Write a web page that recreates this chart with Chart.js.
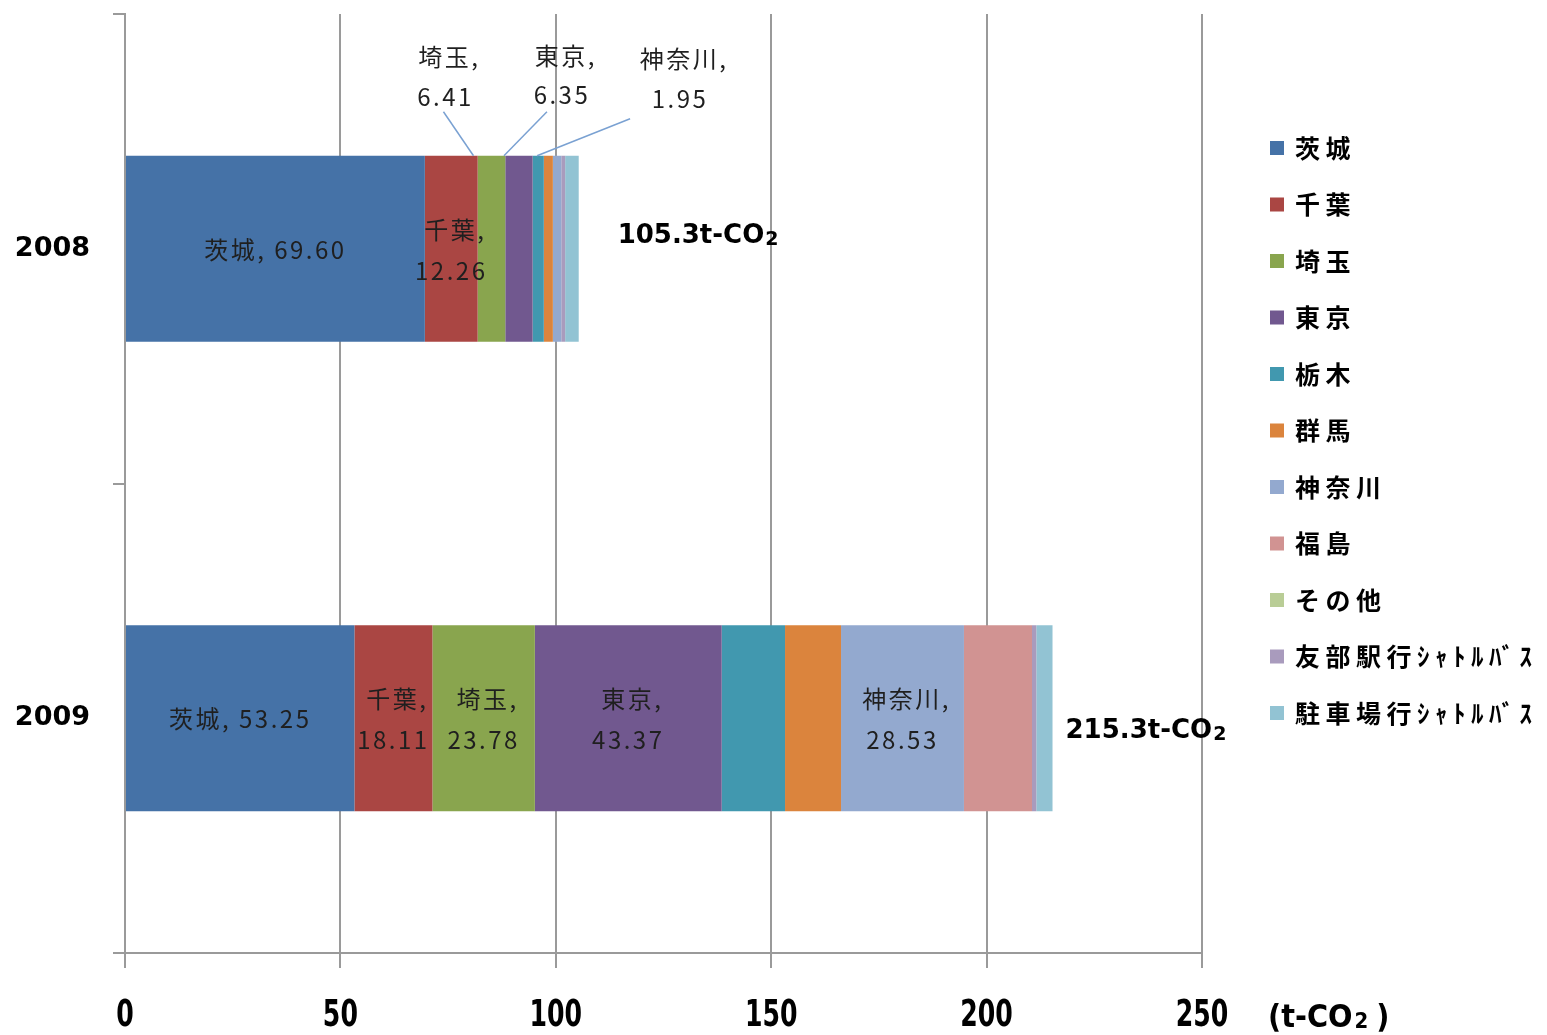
<!DOCTYPE html>
<html lang="ja">
<head>
<meta charset="utf-8">
<title>CO2排出量</title>
<script src="https://cdn.jsdelivr.net/npm/chart.js@4.4.1/dist/chart.umd.min.js"></script>
<style>
  html, body { margin: 0; padding: 0; background: #fff; }
  #wrap { width: 1547px; height: 1035px; }
</style>
</head>
<body>
<div id="wrap"><canvas id="co2-chart" width="1547" height="1035"></canvas></div>
<script>
// 年度
const years = ['2008', '2009'];
// 地域別・シャトルバス別の排出量 (t-CO2)
const regions = ['茨城', '千葉', '埼玉', '東京', '栃木', '群馬', '神奈川', '福島', 'その他', '友部駅行ｼｬﾄﾙﾊﾞｽ', '駐車場行ｼｬﾄﾙﾊﾞｽ'];
const values2008 = [69.60, 12.26, 6.41, 6.35, 2.60, 2.10, 1.95, 0, 0, 0.90, 3.15];
const values2009 = [53.25, 18.11, 23.78, 43.37, 14.70, 13.00, 28.53, 15.80, 0, 1.00, 3.76];
const totals = [105.3, 215.3];
const xTicks = [0, 50, 100, 150, 200, 250];

const colors = ['#4572A7', '#AA4643', '#89A54E', '#71588F', '#4198AF', '#DB843D',
                '#93A9CF', '#D19392', '#B9CD96', '#A99BBD', '#92C3D3'];

// どのラベルをどう出すか: inline = 1行, stacked = 2行, callout = 棒の上に引き出し線付き
const labelModes = [
  { '茨城': 'inline', '千葉': 'stacked', '埼玉': 'callout', '東京': 'callout', '神奈川': 'callout' },
  { '茨城': 'inline', '千葉': 'stacked', '埼玉': 'stacked', '東京': 'stacked', '神奈川': 'stacked' }
];
// 引き出し線ラベルの配置 (セグメント中心・棒の上端からのずれ)
const callouts = {
  '埼玉':   { dx: -46, y1: -99,  y2: -59, sx: -48, sy: -44, ex: -18 },
  '東京':   { dx: 43,  y1: -100, y2: -61, sx: 28,  sy: -44, ex: -15 },
  '神奈川': { dx: 123, y1: -97,  y2: -57, sx: 73,  sy: -37, ex: -20 }
};
// 合計ラベルの位置 (棒の右端・中心からのずれ)
const totalOffsets = [{ dx: 39, dy: -16 }, { dx: 13, dy: 10 }];

const GRID = '#9a9a9a';
const LABEL_FONT = '24px "Noto Sans CJK JP", sans-serif';
const NARROW = '"DejaVu Sans Condensed", "DejaVu Sans", sans-serif';

function drawSpaced(ctx, text, x, y, spacing) {
  ctx.letterSpacing = spacing + 'px';
  ctx.fillText(text, x, y);
  ctx.letterSpacing = '0px';
}

// 棒の中・上に「地域, 値」を書く
const segmentLabels = {
  id: 'segmentLabels',
  afterDatasetsDraw(chart) {
    const ctx = chart.ctx;
    ctx.save();
    ctx.font = LABEL_FONT;
    ctx.fillStyle = '#1f1f1f';
    ctx.textAlign = 'center';
    ctx.textBaseline = 'middle';
    chart.data.datasets.forEach((ds, di) => {
      const meta = chart.getDatasetMeta(di);
      meta.data.forEach((bar, bi) => {
        const mode = labelModes[bi][ds.label];
        if (!mode) return;
        const v = ds.data[bi].toFixed(2);
        const left = Math.min(bar.x, bar.base), right = Math.max(bar.x, bar.base);
        const cx = (left + right) / 2;
        const top = bar.y - bar.height / 2;
        if (mode === 'inline') {
          drawSpaced(ctx, ds.label + ', ' + v, cx, bar.y + 1, 2.5);
        } else if (mode === 'stacked') {
          drawSpaced(ctx, ds.label + ',', cx + 4, bar.y - 19, 2.5);
          drawSpaced(ctx, v, cx, bar.y + 22, 2.5);
        } else {
          const c = callouts[ds.label];
          ctx.strokeStyle = '#7aa1d2';
          ctx.lineWidth = 1.5;
          ctx.beginPath();
          ctx.moveTo(cx + c.sx, top + c.sy);
          ctx.lineTo(cx + c.ex, top);
          ctx.stroke();
          drawSpaced(ctx, ds.label + ',', cx + c.dx + 4, top + c.y1, 2.5);
          drawSpaced(ctx, v, cx + c.dx, top + c.y2, 2.5);
        }
      });
    });
    ctx.restore();
  }
};

// x軸の目盛り文字 (縦長の太字), 合計値と単位
const axisTextAndTotals = {
  id: 'axisTextAndTotals',
  afterDraw(chart) {
    const ctx = chart.ctx;
    const xs = chart.scales.x, ys = chart.scales.y;
    ctx.save();
    ctx.fillStyle = '#000';

    ctx.textAlign = 'center';
    ctx.textBaseline = 'middle';
    ctx.font = 'bold 28px ' + NARROW;
    xs.ticks.forEach(t => {
      ctx.save();
      ctx.translate(xs.getPixelForValue(t.value), 1016);
      ctx.scale(1, 1.33);
      ctx.fillText(String(t.value), 0, 0);
      ctx.restore();
    });

    ctx.textAlign = 'left';
    ctx.textBaseline = 'alphabetic';
    totals.forEach((t, i) => {
      const x = xs.getPixelForValue(t) + totalOffsets[i].dx;
      const y = ys.getPixelForValue(i) + totalOffsets[i].dy + 10;
      ctx.font = 'bold 26px "DejaVu Sans", sans-serif';
      const main = t.toFixed(1) + 't-CO';
      ctx.fillText(main, x, y);
      const w = ctx.measureText(main).width;
      ctx.font = 'bold 19px "DejaVu Sans", sans-serif';
      ctx.fillText('2', x + w + 1, y + 2);
    });

    // x軸の単位
    const ux = 1268, uy = 1027;
    ctx.font = 'bold 32px ' + NARROW;
    ctx.fillText('(t-CO', ux, uy);
    const w1 = ctx.measureText('(t-CO').width;
    ctx.font = 'bold 22px ' + NARROW;
    ctx.fillText('2', ux + w1 + 2, uy + 1);
    const w2 = ctx.measureText('2').width;
    ctx.font = 'bold 32px ' + NARROW;
    ctx.fillText(')', ux + w1 + w2 + 10, uy);
    ctx.restore();
  }
};

// 右側の凡例
const sideLegend = {
  id: 'sideLegend',
  afterDraw(chart) {
    const ctx = chart.ctx;
    ctx.save();
    ctx.textBaseline = 'middle';
    ctx.textAlign = 'left';
    ctx.font = 'bold 25px "Noto Sans CJK JP", sans-serif';
    chart.data.datasets.forEach((ds, i) => {
      const y = 148 + i * 56.5;
      ctx.fillStyle = ds.backgroundColor;
      ctx.fillRect(1270, y - 7, 14, 14);
      ctx.fillStyle = '#000';
      drawSpaced(ctx, ds.label, 1295, y, 5.5);
    });
    ctx.restore();
  }
};

new Chart(document.getElementById('co2-chart'), {
  type: 'bar',
  data: {
    labels: years,
    datasets: regions.map((name, i) => ({
      label: name,
      data: [values2008[i], values2009[i]],
      backgroundColor: colors[i],
      borderWidth: 0,
      barPercentage: 0.396,
      categoryPercentage: 1
    }))
  },
  options: {
    indexAxis: 'y',
    responsive: false,
    animation: false,
    layout: { padding: { top: 14, right: 345, left: 0, bottom: 0 } },
    plugins: { legend: { display: false }, tooltip: { enabled: false } },
    scales: {
      x: {
        stacked: true,
        min: 0,
        max: 250,
        afterBuildTicks: scale => { scale.ticks = xTicks.map(v => ({ value: v })); },
        afterFit: scale => {
          scale.height = 82;
          scale.paddingLeft = 0;
          scale.paddingRight = 0;
        },
        ticks: { display: false },
        grid: { color: GRID, lineWidth: 2, tickLength: 15 },
        border: { color: GRID, width: 2 }
      },
      y: {
        stacked: true,
        afterFit: scale => {
          scale.width = 125;
          scale.paddingTop = 0;
          scale.paddingBottom = 0;
        },
        ticks: { color: '#000', font: { family: '"DejaVu Sans", sans-serif', size: 27, weight: 'bold' }, padding: 23 },
        grid: { offset: true, drawOnChartArea: false, color: GRID, lineWidth: 2, tickLength: 12 },
        border: { color: GRID, width: 2 }
      }
    }
  },
  plugins: [segmentLabels, axisTextAndTotals, sideLegend]
});
</script>
</body>
</html>
